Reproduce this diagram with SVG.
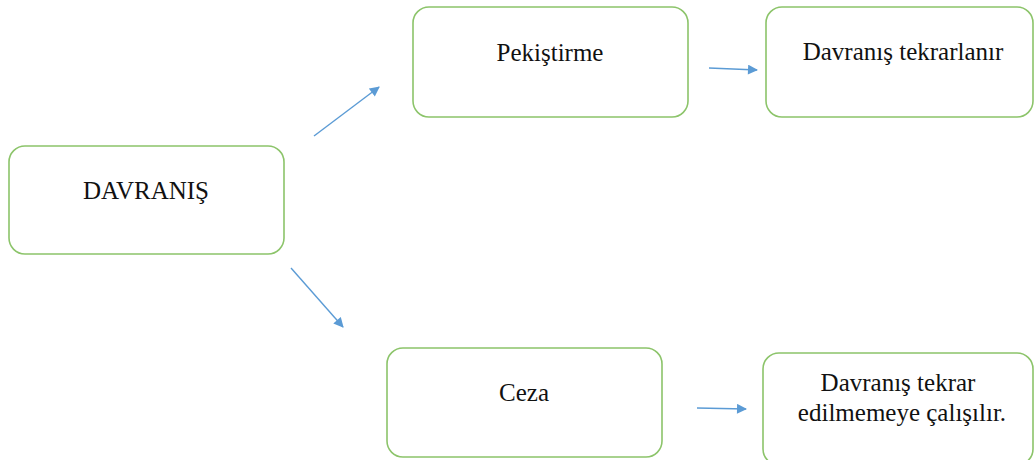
<svg xmlns="http://www.w3.org/2000/svg" width="1035" height="460" viewBox="0 0 1035 460">
<defs>
<style>
.box{fill:#fff;stroke:#8CC46A;stroke-width:1.6}
.lbl{font-size:25px;fill:#111;text-anchor:middle}
.con{stroke:#5B9BD5;stroke-width:1.4;fill:none;marker-end:url(#ah)}
</style>
<marker id="ah" viewBox="0 0 10 10" refX="9" refY="5" markerWidth="11" markerHeight="10" markerUnits="userSpaceOnUse" orient="auto">
<path d="M0,0 L10,5 L0,10 z" fill="#5B9BD5"/>
</marker>
</defs>
<rect width="1035" height="460" fill="#fff"/>
<g id="connectors">
<line class="con" x1="314" y1="136" x2="379" y2="87"/>
<line class="con" x1="291" y1="268" x2="343" y2="327"/>
<line class="con" x1="709" y1="68" x2="757" y2="70"/>
<line class="con" x1="697" y1="408" x2="746" y2="409"/>
</g>
<g font-family="'Liberation Serif', 'Times New Roman', 'DejaVu Serif', serif">
<g id="davranis">
<rect class="box" x="9" y="146" width="275" height="108" rx="16"/>
<text class="lbl" x="146" y="199">DAVRANIŞ</text>
</g>
<g id="pekistirme">
<rect class="box" x="413" y="7" width="275" height="110" rx="16"/>
<text class="lbl" x="550" y="61">Pekiştirme</text>
</g>
<g id="tekrarlanir">
<rect class="box" x="766" y="7" width="267" height="110" rx="16"/>
<text class="lbl" x="903" y="60">Davranış tekrarlanır</text>
</g>
<g id="ceza">
<rect class="box" x="387" y="348" width="275" height="109" rx="16"/>
<text class="lbl" x="524" y="401">Ceza</text>
</g>
<g id="calisilir">
<rect class="box" x="763" y="353" width="270" height="112" rx="16"/>
<text class="lbl" x="898" y="391">Davranış tekrar</text>
<text class="lbl" x="902" y="421">edilmemeye çalışılır.</text>
</g>
</g>
</svg>
